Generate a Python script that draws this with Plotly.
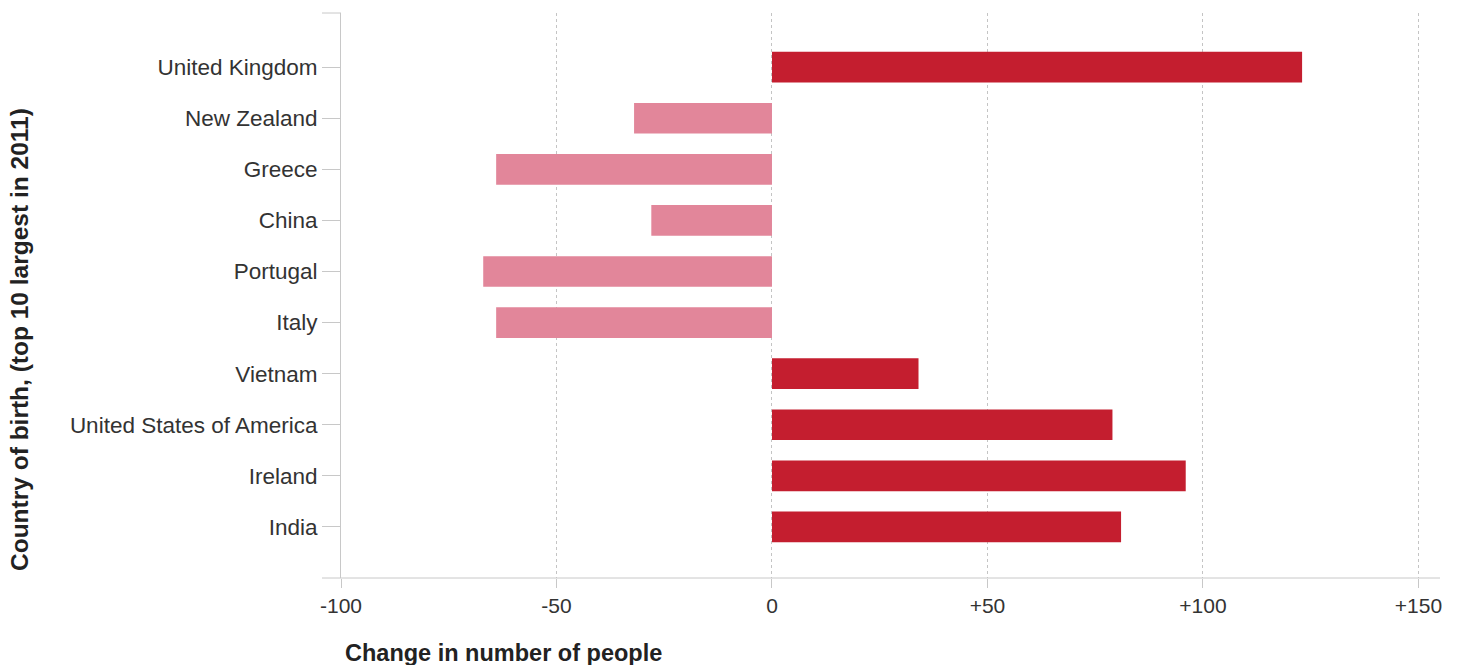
import plotly.graph_objects as go

countries = ["India", "Ireland", "United States of America", "Vietnam", "Italy",
             "Portugal", "China", "Greece", "New Zealand", "United Kingdom"]
changes = [81, 96, 79, 34, -64, -67, -28, -64, -32, 123]

tick_values = [-100, -50, 0, 50, 100, 150]
tick_labels = ["-100", "-50", "0", "+50", "+100", "+150"]

POS = "#C41E2F"
NEG = "#E2869A"
colors = [POS if v >= 0 else NEG for v in changes]

FONT = "Liberation Sans, Arial, sans-serif"
GRID = "#c4c4c4"
AXIS = "#c8c8c8"

fig = go.Figure(go.Bar(
    x=changes, y=countries, orientation="h",
    marker=dict(color=colors, line=dict(width=0)),
    width=0.6,
))

fig.update_layout(
    width=1458, height=665,
    margin=dict(l=341, r=18, t=13, b=87),
    paper_bgcolor="white", plot_bgcolor="white",
    showlegend=False,
    font=dict(family=FONT, color="#333333"),
    xaxis=dict(
        range=[-100, 155], tickvals=tick_values, ticktext=tick_labels,
        showgrid=True, gridcolor=GRID, griddash="dot", gridwidth=1,
        zeroline=False, showline=False,
        ticks="outside", ticklen=9, tickcolor=AXIS,
        tickfont=dict(size=21, color="#333333", family=FONT),
    ),
    yaxis=dict(
        categoryorder="array", categoryarray=countries,
        range=[-1.0, 10.06],
        showgrid=False, zeroline=False,
        showline=True, linecolor=AXIS, linewidth=1,
        ticks="outside", ticklen=18, tickcolor=AXIS,
        tickfont=dict(size=22.5, color="#333333", family=FONT),
    ),
    shapes=[
        dict(type="line", xref="paper", yref="paper", x0=-19/1099, x1=1, y0=0, y1=0,
             line=dict(color=AXIS, width=1)),
        dict(type="line", xref="paper", yref="paper", x0=-19/1099, x1=0, y0=1, y1=1,
             line=dict(color=AXIS, width=1)),
    ],
    annotations=[
        dict(text="<b>Change in number of people</b>", xref="paper", yref="paper",
             x=0.002, y=-0.107, xanchor="left", yanchor="top", showarrow=False,
             font=dict(size=23.5, color="#222222", family=FONT)),
        dict(text="<b>Country of birth, (top 10 largest in 2011)</b>", xref="paper", yref="paper",
             x=-321/1099, y=(578 - 340) / 565, xanchor="center", yanchor="middle", textangle=-90,
             showarrow=False, font=dict(size=24.5, color="#222222", family=FONT)),
    ],
)

fig.write_html("out.html", config={"displayModeBar": False},
               post_script="document.body.style.margin='0';")
